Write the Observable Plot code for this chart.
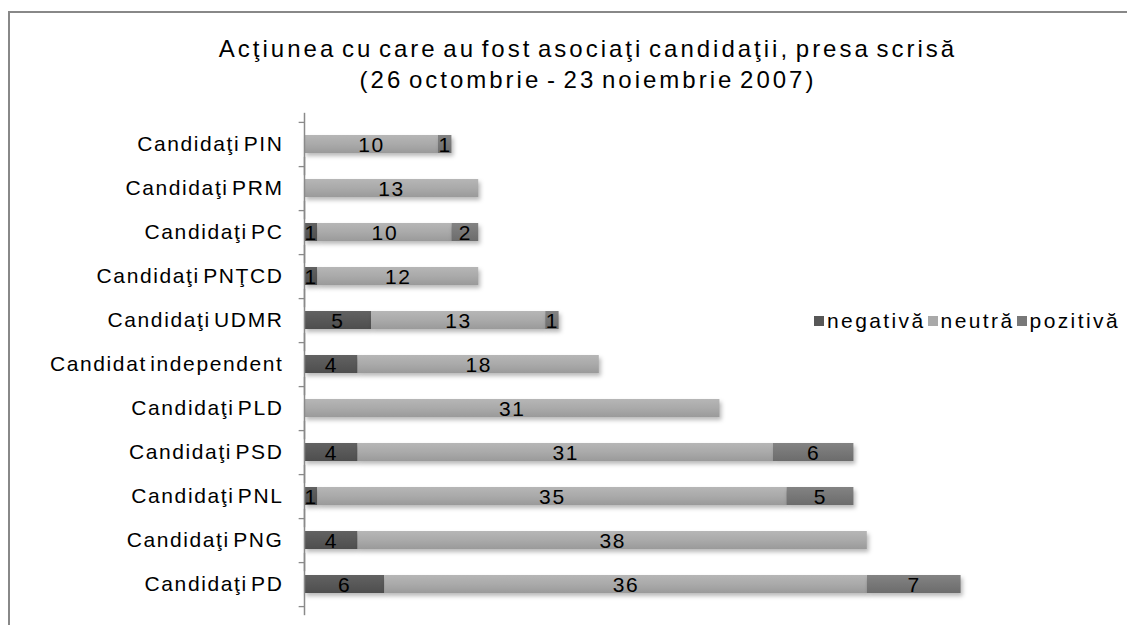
<!DOCTYPE html>
<html>
<head>
<meta charset="utf-8">
<script src="https://cdn.jsdelivr.net/npm/d3@7"></script>
<script src="https://cdn.jsdelivr.net/npm/@observablehq/plot@0.6"></script>
<style>
  html, body { margin: 0; padding: 0; background: #fff; }
  body { width: 1127px; height: 625px; position: relative; overflow: hidden; font-family: "Liberation Sans", Arial, sans-serif; }
  #frame { position: absolute; left: 8px; top: 11px; width: 1300px; height: 800px; border: 2px solid #888; box-sizing: border-box; }
  #title { position: absolute; left: 0; width: 1176px; top: 33px; text-align: center; font-size: 24px; line-height: 31px; letter-spacing: 3px; word-spacing: -4px; color: #000; }
  #chart { position: absolute; left: 0; top: 0; }
  #chart svg text { letter-spacing: 1.6px; word-spacing: -4px; }
  .bars rect { filter: drop-shadow(2px 3px 2px rgba(0,0,0,0.28)); }
  #legend { position: absolute; left: 814px; top: 309px; font-size: 21px; letter-spacing: 2.4px; color: #000; white-space: nowrap; }
  #legend span.sw { display: inline-block; width: 10px; height: 10px; margin-right: 3px; vertical-align: 2px; }
  #legend span.it { margin-right: 2px; }
</style>
</head>
<body>
<svg width="0" height="0" style="position:absolute">
  <defs>
    <linearGradient id="g-negativa" x1="0" y1="0" x2="0" y2="1">
      <stop offset="0" stop-color="#626262"/><stop offset="1" stop-color="#4e4e4e"/>
    </linearGradient>
    <linearGradient id="g-neutra" x1="0" y1="0" x2="0" y2="1">
      <stop offset="0" stop-color="#b6b6b6"/><stop offset="0.5" stop-color="#aaaaaa"/><stop offset="1" stop-color="#9a9a9a"/>
    </linearGradient>
    <linearGradient id="g-pozitiva" x1="0" y1="0" x2="0" y2="1">
      <stop offset="0" stop-color="#838383"/><stop offset="1" stop-color="#6c6c6c"/>
    </linearGradient>
  </defs>
</svg>
<div id="frame"></div>
<div id="title">Acţiunea cu care au fost asociaţi candidaţii, presa scrisă<br>(26 octombrie - 23 noiembrie 2007)</div>
<div id="chart"></div>
<div id="legend"></div>
<script>
const categories = ["Candidaţi PIN","Candidaţi PRM","Candidaţi PC","Candidaţi PNŢCD","Candidaţi UDMR","Candidat independent","Candidaţi PLD","Candidaţi PSD","Candidaţi PNL","Candidaţi PNG","Candidaţi PD"];
const negativa = [0,0,1,1,5,4,0,4,1,4,6];
const neutra   = [10,13,10,12,13,18,31,31,35,38,36];
const pozitiva = [1,0,2,0,1,0,0,6,5,0,7];
const seriesNames = ["negativă","neutră","pozitivă"];
const seriesColors = ["#575757","#a9a9a9","#787878"];
const seriesFills = ["url(#g-negativa)","url(#g-neutra)","url(#g-pozitiva)"];

const seriesValues = [negativa, neutra, pozitiva];
const rows = [];
categories.forEach((c, i) => {
  seriesNames.forEach((s, j) => {
    rows.push({cat: c, series: s, value: seriesValues[j][i], fillRef: seriesFills[j]});
  });
});
const nonZero = rows.filter(d => d.value > 0);

const chart = Plot.plot({
  width: 1127,
  height: 625,
  marginLeft: 304,
  marginRight: 153,
  marginTop: 120,
  marginBottom: 18,
  style: {fontFamily: "'Liberation Sans', Arial, sans-serif", fontSize: "21px", color: "#000", background: "transparent"},
  x: {domain: [0, 50], axis: null},
  y: {domain: categories, paddingInner: 0.6, paddingOuter: 0.3, label: null},
  color: {type: "identity"},
  marks: [
    Plot.barX(nonZero, Plot.stackX({x: "value", y: "cat", fill: "fillRef", z: "series", className: "bars", inset: 0})),
    Plot.text(nonZero, Plot.stackX({x: "value", y: "cat", z: "series", text: d => String(d.value), fill: "#000", fontSize: 21, dy: 1})),
    Plot.tickX(categories, {x: () => 0, y: d => d, insetTop: -22.2, insetBottom: -22.2, stroke: "#8a8a8a", strokeWidth: 1.5}),
    Plot.ruleY(categories, {y: d => d, x1: -0.4, x2: 0, dy: 22.1, stroke: "#8a8a8a", strokeWidth: 1.3}),
    Plot.ruleY([categories[0]], {y: d => d, x1: -0.4, x2: 0, dy: -22.1, stroke: "#8a8a8a", strokeWidth: 1.3}),
    Plot.axisY({tickSize: 0, tickPadding: 21, label: null, fontSize: 21, fill: "#000"})
  ]
});
document.getElementById("chart").appendChild(chart);

const legend = document.getElementById("legend");
seriesNames.forEach((s, j) => {
  const sw = document.createElement("span");
  sw.className = "sw";
  sw.style.background = seriesColors[j];
  const t = document.createElement("span");
  t.className = "it";
  t.textContent = s;
  legend.appendChild(sw);
  legend.appendChild(t);
});
</script>
</body>
</html>
